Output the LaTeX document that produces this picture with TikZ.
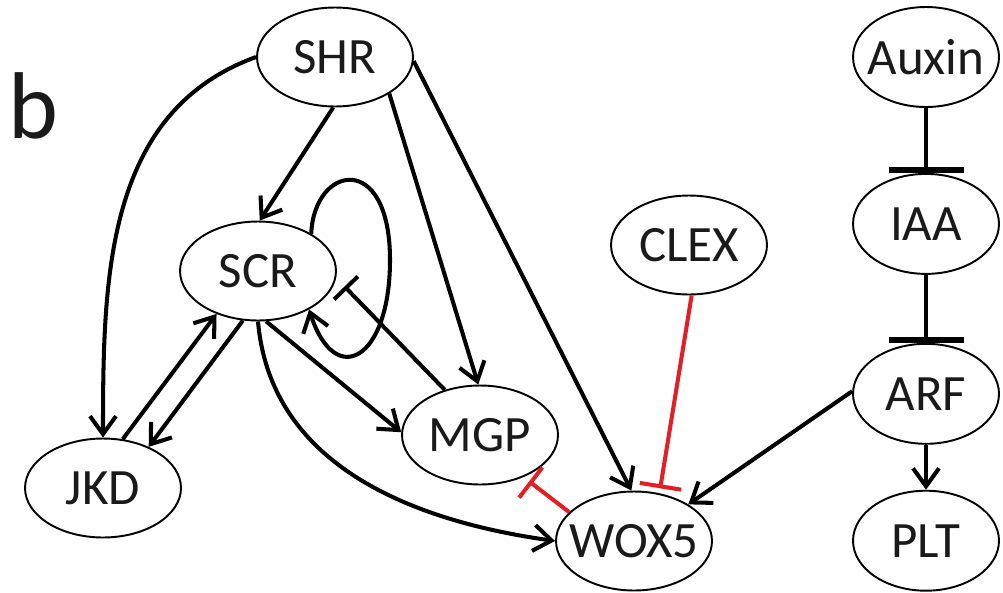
\documentclass[tikz,border=0pt]{standalone}
\usepackage{fontspec}
\setmainfont{Carlito}
\usepackage{tikz}
\usetikzlibrary{arrows.meta,positioning,shapes.geometric}
\definecolor{inhib}{HTML}{E41E25}
\definecolor{ink}{HTML}{1A1A1A}

\begin{document}
\begin{tikzpicture}[
  x=0.02cm, y=0.02cm,
  gene/.style={draw, ellipse, line width=1.1pt, minimum width=31.2mm, minimum height=19.8mm, inner sep=-10pt, text=ink, font=\fontsize{29}{30}\selectfont},
  col/.style={gene, minimum width=29.2mm, minimum height=20mm},
  act/.style={-{Straight Barb[length=3.6mm, width=5.2mm]}, line width=2.3pt},
  rep/.style={-{Bar[width=6.6mm]}, line width=2.3pt},
  colrep/.style={-{Bar[width=15mm, line width=3.6pt]}, line width=2.3pt}
]
\useasboundingbox (0,0) rectangle (1003,-592);
\node[font=\fontsize{54}{56}\selectfont, anchor=base, text=ink] (panel) at (33,-138) {b};
\node[gene] (SHR) at (335,-57) {SHR};
\node[gene] (SCR) at (258,-271) {SCR};
\node[gene] (JKD) at (103,-488) {JKD};
\node[gene] (MGP) at (480,-435) {MGP};
\node[gene] (WOX5) at (634,-541) {WOX5};
\node[gene] (CLEX) at (689,-245) {CLEX};
\node[col] (Auxin) at (926,-57) {Auxin};
\node[col, below=13mm of Auxin] (IAA) {IAA};
\node[col, below=13.6mm of IAA] (ARF) {ARF};
\node[col, below=9mm of ARF] (PLT) {PLT};
\draw[act] (SHR.west) to[out=200, in=90] (JKD.north);
\draw[act] (SHR.-92) -- (SCR.88);
\draw[act] (SHR.-34) -- (MGP.92);
\draw[act] (SHR.-3) -- (WOX5.93);
\draw[act] (SCR.35) .. controls (314,-165) and (390,-150) .. (390,-260) .. controls (390,-360) and (335,-390) .. (SCR.-37);
\draw[rep, shorten >=0.24cm] (MGP.128) -- (SCR.-5);
\draw[act] (JKD.68) -- (SCR.-134);
\draw[act] (SCR.-107) -- (JKD.42);
\draw[act] (SCR.-81) -- (MGP.178);
\draw[act] (SCR.south) to[out=-85, in=172] (WOX5.west);
\draw[rep, inhib, shorten >=0.14cm, -{Bar[width=7.6mm]}] (WOX5.156) -- (MGP.-44);
\draw[rep, inhib, shorten >=0.1cm, -{Bar[width=8.4mm]}] (CLEX.-87) -- (WOX5.62);
\draw[act] (ARF.178) -- (WOX5.34);
\draw[colrep] (Auxin) -- (IAA);
\draw[colrep] (IAA) -- (ARF);
\draw[act] (ARF) -- (PLT);
\end{tikzpicture}
\end{document}
